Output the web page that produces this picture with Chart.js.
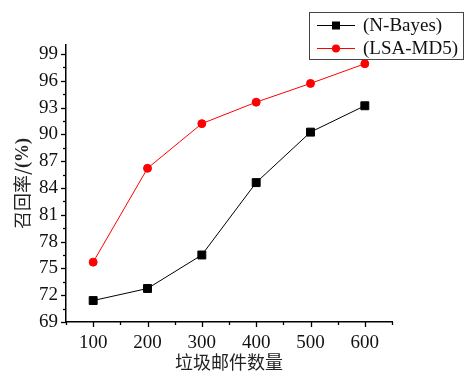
<!DOCTYPE html>
<html>
<head>
<meta charset="utf-8">
<script src="https://cdn.jsdelivr.net/npm/chart.js@4"></script>
<style>
  body { margin: 0; background: #fff; }
  canvas { display: block; }
</style>
</head>
<body>
<canvas id="chart" width="465" height="371"></canvas>
<script>
/* ------------------------------------------------------------
   data
------------------------------------------------------------ */
const mailCounts = [100, 200, 300, 400, 500, 600];
const nBayes = [71.4, 72.75, 76.5, 84.6, 90.25, 93.2];
const lsaMd5 = [75.7, 86.2, 91.2, 93.6, 95.7, 97.9];
const seriesNames = ['(N-Bayes)', '(LSA-MD5)'];
const yTickLabels = [69, 72, 75, 78, 81, 84, 87, 90, 93, 96, 99];
const xTitle = '垃圾邮件数量';
const yTitleMain = '召回率/';
const yTitleUnit = '(%)';

const SERIF = '"Liberation Serif", "Noto Sans CJK SC", serif';
const CJK = '"Noto Sans CJK SC", "Liberation Serif", serif';

// outward tick marks, major + minor
const tickMarks = {
  id: 'tickMarks',
  afterDraw(chart) {
    const ctx = chart.ctx;
    const xs = chart.scales.x, ys = chart.scales.y;
    const area = chart.chartArea;
    ctx.save();
    ctx.strokeStyle = '#000';
    ctx.lineWidth = 1.3;
    for (let v = 50; v <= 650; v += 50) {
      const px = Math.round(xs.getPixelForValue(v)) + 0.5;
      const len = v % 100 === 0 ? 5 : 3;
      ctx.beginPath();
      ctx.moveTo(px, area.bottom);
      ctx.lineTo(px, area.bottom + len);
      ctx.stroke();
    }
    for (let k = 0; k <= 20; k++) {
      const v = 69 + k * 1.5;
      const py = Math.round(ys.getPixelForValue(v)) + 0.5;
      const len = k % 2 === 0 ? 5 : 3;
      ctx.beginPath();
      ctx.moveTo(area.left, py);
      ctx.lineTo(area.left - len, py);
      ctx.stroke();
    }
    ctx.restore();
  }
};

// axis titles (y title mixes normal + bold)
const axisTitles = {
  id: 'axisTitles',
  afterDraw(chart) {
    const ctx = chart.ctx;
    const area = chart.chartArea;
    ctx.save();
    ctx.fillStyle = '#222';
    ctx.textBaseline = 'middle';
    ctx.textAlign = 'center';
    ctx.font = '18px ' + CJK;
    ctx.fillText(xTitle, (area.left + area.right) / 2, 362);

    ctx.translate(22, (area.top + area.bottom) / 2);
    ctx.rotate(-Math.PI / 2);
    ctx.font = '18px ' + CJK;
    const w1 = ctx.measureText(yTitleMain).width;
    ctx.font = 'bold 18px ' + SERIF;
    const w2 = ctx.measureText(yTitleUnit).width;
    let x0 = -(w1 + w2) / 2;
    ctx.textAlign = 'left';
    ctx.font = '18px ' + CJK;
    ctx.fillText(yTitleMain, x0, 0);
    ctx.font = 'bold 18px ' + SERIF;
    ctx.fillText(yTitleUnit, x0 + w1, 1);
    ctx.restore();
  }
};

// boxed legend in the top right corner
const boxLegend = {
  id: 'boxLegend',
  afterDraw(chart) {
    const ctx = chart.ctx;
    ctx.save();
    ctx.strokeStyle = '#444';
    ctx.lineWidth = 1;
    ctx.strokeRect(309.5, 12.5, 154, 47);
    chart.data.datasets.forEach((ds, i) => {
      const y = 25 + i * 23;
      ctx.strokeStyle = ds.borderColor;
      ctx.fillStyle = ds.backgroundColor;
      ctx.lineWidth = 1;
      ctx.beginPath();
      ctx.moveTo(317, y + 0.5);
      ctx.lineTo(355, y + 0.5);
      ctx.stroke();
      if (ds.pointStyle === 'rect') {
        ctx.fillRect(332, y - 3.5, 8, 8);
      } else {
        ctx.beginPath();
        ctx.arc(336, y + 0.5, 4, 0, Math.PI * 2);
        ctx.fill();
      }
      ctx.fillStyle = '#111';
      ctx.font = '19px ' + SERIF;
      ctx.textAlign = 'left';
      ctx.textBaseline = 'middle';
      ctx.fillText(ds.label, 363, y + 1);
    });
    ctx.restore();
  }
};

new Chart(document.getElementById('chart'), {
  type: 'line',
  data: {
    datasets: [
      {
        label: seriesNames[0],
        data: mailCounts.map((x, i) => ({ x, y: nBayes[i] })),
        borderColor: '#000', backgroundColor: '#000',
        borderWidth: 1, pointStyle: 'rect', pointRadius: 5.6, pointHoverRadius: 5.6
      },
      {
        label: seriesNames[1],
        data: mailCounts.map((x, i) => ({ x, y: lsaMd5[i] })),
        borderColor: '#ff0000', backgroundColor: '#ff0000',
        borderWidth: 1, pointStyle: 'circle', pointRadius: 4, pointHoverRadius: 4
      }
    ]
  },
  options: {
    responsive: false,
    animation: false,
    layout: { padding: { left: 0, top: 45, right: 73, bottom: 0 } },
    plugins: { legend: { display: false }, tooltip: { enabled: false } },
    scales: {
      x: {
        type: 'linear', min: 50, max: 650,
        afterFit: s => { s.height = 49; },
        grid: { display: false, drawTicks: false },
        border: { display: true, color: '#000', width: 1.5 },
        ticks: {
          stepSize: 50, autoSkip: false, maxRotation: 0, padding: 10,
          color: '#111', font: { family: SERIF, size: 19 },
          callback: v => (mailCounts.includes(v) ? String(v) : '')
        }
      },
      y: {
        min: 69, max: 100,
        afterFit: s => { s.width = 66; },
        afterBuildTicks: s => { s.ticks = yTickLabels.map(v => ({ value: v })); },
        grid: { display: false, drawTicks: false },
        border: { display: true, color: '#000', width: 1.5 },
        ticks: {
          autoSkip: false, padding: 8,
          color: '#111', font: { family: SERIF, size: 19 },
          callback: v => String(v)
        }
      }
    }
  },
  plugins: [tickMarks, axisTitles, boxLegend]
});
</script>
</body>
</html>
